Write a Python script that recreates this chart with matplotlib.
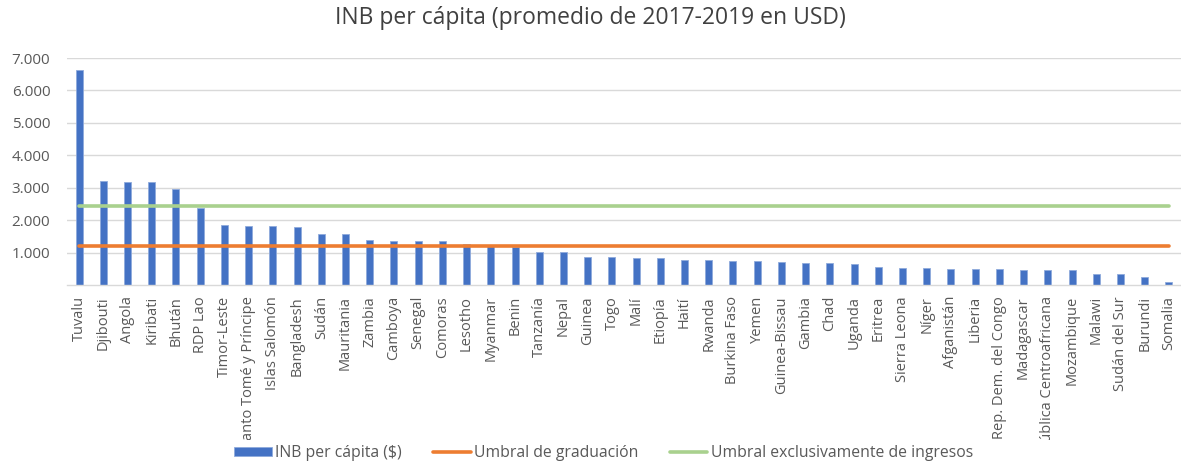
#!/usr/bin/env python3
"""
INB per capita bar chart with graduation thresholds.
"""

import matplotlib.pyplot as plt
from matplotlib.ticker import FuncFormatter
from matplotlib.transforms import Bbox, TransformedBbox

# Data
countries = [
    "Tuvalu", "Djibouti", "Angola", "Kiribati", "Bhután", "RDP Lao",
    "Timor-Leste", "Santo Tomé y Príncipe", "Islas Salomón", "Bangladesh",
    "Sudán", "Mauritania", "Zambia", "Camboya", "Senegal", "Comoras",
    "Lesotho", "Myanmar", "Benin", "Tanzanía", "Nepal", "Guinea", "Togo",
    "Malí", "Etiopía", "Haití", "Rwanda", "Burkina Faso", "Yemen",
    "Guinea-Bissau", "Gambia", "Chad", "Uganda", "Eritrea", "Sierra Leona",
    "Níger", "Afganistán", "Liberia", "Rep. Dem. del Congo", "Madagascar",
    "República Centroafricana", "Mozambique", "Malawi", "Sudán del Sur",
    "Burundi", "Somalia",
]
gni_per_capita = [
    6630, 3210, 3180, 3170, 2975, 2380,
    1850, 1820, 1820, 1800,
    1565, 1565, 1390, 1360, 1350, 1350,
    1270, 1190, 1180, 1020, 1015, 855, 855,
    835, 830, 770, 765, 740, 740,
    710, 690, 670, 650, 565, 515,
    515, 495, 495, 495, 475,
    455, 455, 340, 330,
    255, 85,
]
graduation_threshold = 1215
income_only_threshold = 2430

series_labels = ["INB per cápita ($)", "Umbral de graduación",
                 "Umbral exclusivamente de ingresos"]
title = "INB per cápita (promedio de 2017-2019 en USD)"
yticks = [1000, 2000, 3000, 4000, 5000, 6000, 7000]

plt.rcParams['font.family'] = ['Open Sans', 'DejaVu Sans']

fig = plt.figure(figsize=(11.81, 4.67), dpi=100)
ax = fig.add_axes([67 / 1181, 1 - 285 / 467, 1 - 67 / 1181, 227 / 467])

x = list(range(len(countries)))

# Bars
bars = ax.bar(x, gni_per_capita, width=0.29, color='#4472C4',
              edgecolor='#8FAADC', linewidth=0.6, zorder=2,
              label=series_labels[0])

# Threshold lines, from first to last category
grad_line, = ax.plot(x, [graduation_threshold] * len(x), color='#ED7D31',
                     linewidth=2.6, solid_capstyle='round', zorder=3,
                     label=series_labels[1])
income_line, = ax.plot(x, [income_only_threshold] * len(x), color='#A9D18E',
                       linewidth=2.6, solid_capstyle='round', zorder=3,
                       label=series_labels[2])

# Axes styling
ax.set_xlim(-0.5, len(x) - 0.5)
ax.set_ylim(0, 7000)
ax.set_yticks(yticks)
ax.yaxis.set_major_formatter(FuncFormatter(lambda v, p: f"{v:,.0f}".replace(",", ".")))
ax.grid(axis='y', color='#D9D9D9', linewidth=1.0, zorder=0)
ax.set_axisbelow(True)
for side in ['top', 'right', 'left']:
    ax.spines[side].set_visible(False)
ax.spines['bottom'].set_color('#D9D9D9')
ax.spines['bottom'].set_linewidth(1.0)

ax.set_xticks(x)
ax.set_xticklabels(countries, rotation=90, fontsize=10.5, color='#595959')
ax.tick_params(axis='x', length=0, pad=8)
ax.tick_params(axis='y', length=0, pad=12, labelsize=11, labelcolor='#595959')

# Long labels get cut off above the legend, like in the original
clip = TransformedBbox(Bbox([[0, 1 - 440 / 467], [1, 1]]), fig.transFigure)
for lbl in ax.get_xticklabels():
    lbl.set_clip_box(clip)
    lbl.set_clip_on(True)

fig.suptitle(title, fontsize=16.5, color='#404040', y=1 - 18 / 467, va='center')

# Legend
fig.legend(handles=[bars, grad_line, income_line], labels=series_labels,
           loc='center', bbox_to_anchor=(0.511, 1 - 453 / 467), ncol=3,
           frameon=False, fontsize=11.3, handlelength=2.4, handleheight=0.5,
           handletextpad=0.2, columnspacing=2.0, labelcolor='#595959')

plt.savefig("out.png", dpi=100)
